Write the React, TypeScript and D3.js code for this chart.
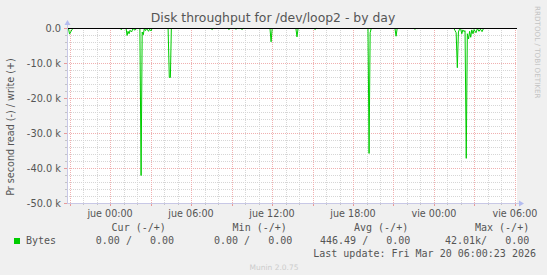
import React from "react";
import * as d3 from "d3";

const titleText = "Disk throughput for /dev/loop2 - by day";
const yAxisLabel = "Pr second read (-) / write (+)";
const sideText = "RRDTOOL / TOBI OETIKER";

// hours relative to Thursday 00:00
const baseTime = new Date(2026, 2, 19, 0, 0, 0);
const domainHours = [-3.19, 30.15];

const readHours = [
  -3.19, -3.08, -3.0, -2.92, -2.83, -2.75,
  0.74, 0.81, 0.93, 1.19, 1.26, 1.33, 1.41, 1.48, 1.59, 1.7, 1.85, 1.96,
  2.21, 2.3, 2.38, 2.46, 2.54, 2.63, 2.71, 2.85, 2.93, 3.04, 3.11,
  4.3, 4.39, 4.47, 4.54,
  7.48, 7.56, 7.64,
  8.73, 8.81, 8.89, 9.25, 9.33, 9.41, 9.7, 9.78, 9.86,
  11.85, 11.93, 12.01,
  13.77, 13.85, 13.93,
  15.11, 15.19, 15.27,
  19.11, 19.19, 19.27, 19.35,
  21.11, 21.19, 21.27,
  22.51, 22.59, 22.67,
  25.48, 25.56, 25.64, 25.73, 25.81, 25.89, 25.97, 26.06, 26.14, 26.22, 26.3,
  26.39, 26.47, 26.56, 26.64, 26.72, 26.8, 26.89, 26.97, 27.11, 27.22, 27.33,
  27.44, 27.56, 27.67,
  30.15,
];
const readBytes = [
  0, 0, 1600, 1000, 400, 0,
  0, 300, 0, 0, 2000, 800, 1500, 500, 1000, 0, 500, 0,
  0, 42010, 1000, 1800, 0, 600, 0, 800, 200, 700, 0,
  0, 14000, 14000, 0,
  0, 300, 0,
  0, 300, 0, 0, 200, 0, 0, 300, 0,
  0, 3800, 0,
  0, 2400, 0,
  0, 300, 0,
  0, 35700, 1200, 0,
  0, 2200, 0,
  0, 200, 0,
  0, 600, 1200, 11200, 1000, 200, 0, 1500, 400, 900, 600,
  37100, 1500, 3000, 800, 2500, 400, 1500, 300, 1200, 0, 800,
  200, 900, 0,
  0,
];

const yTickValues = [0, -10000, -20000, -30000, -40000, -50000];
const yTickLabels = ["0.0", "-10.0 k", "-20.0 k", "-30.0 k", "-40.0 k", "-50.0 k"];
const xTickHours = [0, 6, 12, 18, 24, 30];
const xTickLabels = ["jue 00:00", "jue 06:00", "jue 12:00", "jue 18:00", "vie 00:00", "vie 06:00"];

const legendHeaders = ["Cur (-/+)", "Min (-/+)", "Avg (-/+)", "Max (-/+)"];
const legendSeries = "Bytes";
const legendValues = ["0.00 /   0.00", "0.00 /   0.00", "446.49 /   0.00", "42.01k/   0.00"];
const lastUpdate = "Last update: Fri Mar 20 06:00:23 2026";
const footer = "Munin 2.0.75";

const hourToDate = (h: number) => new Date(baseTime.getTime() + h * 3600 * 1000);

export default function App() {
  const left = 67, right = 517, top = 28, bottom = 203;
  const x = d3.scaleTime().domain(domainHours.map(hourToDate)).range([left, right]);
  const y = d3.scaleLinear().domain([-50000, 0]).range([bottom, top]);

  const pts = readHours.map((h, i) => ({ t: hourToDate(h), v: -readBytes[i] }));
  const line = d3.line<{ t: Date; v: number }>().x((d) => x(d.t)).y((d) => y(d.v) + 0.5);

  const hourTicks = d3.timeHour.every(1)!.range(hourToDate(domainHours[0]), hourToDate(domainHours[1]));
  const minorV = hourTicks.filter((d) => d.getHours() % 3 !== 0);
  const majorV = hourTicks.filter((d) => d.getHours() % 3 === 0);
  const minorH = d3.range(-48000, 0, 2000).filter((v) => v % 10000 !== 0);
  const px = (v: number) => Math.round(v) + 0.5;

  const mono = "'DejaVu Sans Mono', monospace";
  const sans = "'DejaVu Sans', sans-serif";
  const textCol = "#555";
  const legendX = [111.6, 232.6, 354, 475];
  const valueX = [95.8, 214, 320, 445];
  const minorCol = "#d6d6d6";
  const majorCol = "#f0b0b0";

  return (
    <svg width={547} height={275} style={{ position: "absolute", left: 0, top: 0, display: "block" }}>
      <rect x={0} y={0} width={547} height={275} fill="#f0f0f0" />
      <rect x={left} y={top} width={right - left} height={bottom - top} fill="#ffffff" />

      {/* grid */}
      {minorH.map((v) => (
        <line key={"mh" + v} x1={left} x2={right} y1={px(y(v))} y2={px(y(v))} stroke={minorCol} strokeDasharray="1,1" />
      ))}
      {minorV.map((d) => (
        <line key={"mv" + d.getTime()} x1={px(x(d))} x2={px(x(d))} y1={top} y2={bottom} stroke={minorCol} strokeDasharray="1,1" />
      ))}
      {yTickValues.map((v) => (
        <line key={"MH" + v} x1={left} x2={right} y1={px(y(v))} y2={px(y(v))} stroke={majorCol} strokeDasharray="1,1" />
      ))}
      {majorV.map((d) => (
        <line key={"MV" + d.getTime()} x1={px(x(d))} x2={px(x(d))} y1={top} y2={bottom} stroke={majorCol} strokeDasharray="1,1" />
      ))}

      {/* axis ticks */}
      {minorV.map((d) => (
        <line key={"tm" + d.getTime()} x1={px(x(d))} x2={px(x(d))} y1={bottom} y2={bottom + 2} stroke="#c4c4c4" />
      ))}
      {majorV.map((d) => (
        <line key={"tM" + d.getTime()} x1={px(x(d))} x2={px(x(d))} y1={bottom} y2={bottom + 3} stroke="#e89a9a" />
      ))}
      {minorH.map((v) => (
        <line key={"ty" + v} x1={left - 2} x2={left} y1={px(y(v))} y2={px(y(v))} stroke="#c4c4c4" />
      ))}
      {yTickValues.map((v) => (
        <line key={"tY" + v} x1={left - 3} x2={left} y1={px(y(v))} y2={px(y(v))} stroke="#e89a9a" />
      ))}

      {/* data */}
      <path d={line(pts) ?? ""} fill="none" stroke="#00cc00" strokeWidth={1} />
      <line x1={left} x2={right} y1={px(y(0))} y2={px(y(0))} stroke="#000" strokeWidth={1} />

      {/* axes */}
      <line x1={left + 0.5} x2={left + 0.5} y1={bottom} y2={top - 5} stroke="#c8c8e6" />
      <line x1={left} x2={right + 4} y1={bottom + 0.5} y2={bottom + 0.5} stroke="#c8c8e6" />
      <path d={`M${left - 2.5},${top - 3} L${left + 0.5},${top - 8} L${left + 3.5},${top - 3} Z`} fill="#b4bcf0" />
      <path d={`M${right + 2},${bottom - 2.5} L${right + 7},${bottom + 0.5} L${right + 2},${bottom + 3.5} Z`} fill="#b4bcf0" />

      {/* tick labels */}
      {yTickValues.map((v, i) => (
        <text key={"yl" + v} x={61} y={y(v) + 3.5} textAnchor="end" fontFamily={sans} fontSize={9.8} fill={textCol}>
          {yTickLabels[i]}
        </text>
      ))}
      {xTickHours.map((h, i) => (
        <text key={"xl" + h} x={x(hourToDate(h))} y={216.5} textAnchor="middle" fontFamily={sans} fontSize={9.6} fill={textCol}>
          {xTickLabels[i]}
        </text>
      ))}

      {/* titles */}
      <text x={273} y={22} textAnchor="middle" fontFamily={sans} fontSize={12.4} fill={textCol}>
        {titleText}
      </text>
      <text transform={`translate(13.5,127) rotate(-90)`} textAnchor="middle" fontFamily={sans} fontSize={9.6} fill={textCol}>
        {yAxisLabel}
      </text>
      <text transform={`translate(535,6) rotate(90)`} textAnchor="start" fontFamily={sans} fontSize={7.2} fill="#c4c4c4">
        {sideText}
      </text>

      {/* legend */}
      {legendHeaders.map((s, i) => (
        <text key={"lh" + i} x={legendX[i]} y={231} fontFamily={mono} fontSize={10} fill={textCol} xmlSpace="preserve" style={{ whiteSpace: "pre" }}>
          {s}
        </text>
      ))}
      <rect x={14} y={238} width={6} height={6} fill="#00cc00" />
      <text x={26} y={244} fontFamily={mono} fontSize={10} fill={textCol}>{legendSeries}</text>
      {legendValues.map((s, i) => (
        <text key={"lv" + i} x={valueX[i]} y={244} fontFamily={mono} fontSize={10} fill={textCol} xmlSpace="preserve" style={{ whiteSpace: "pre" }}>
          {s}
        </text>
      ))}
      <text x={536} y={257} textAnchor="end" fontFamily={mono} fontSize={10} fill={textCol} xmlSpace="preserve" style={{ whiteSpace: "pre" }}>
        {lastUpdate}
      </text>
      <text x={274} y={270} textAnchor="middle" fontFamily={sans} fontSize={7.5} fill="#cccccc">
        {footer}
      </text>
    </svg>
  );
}
